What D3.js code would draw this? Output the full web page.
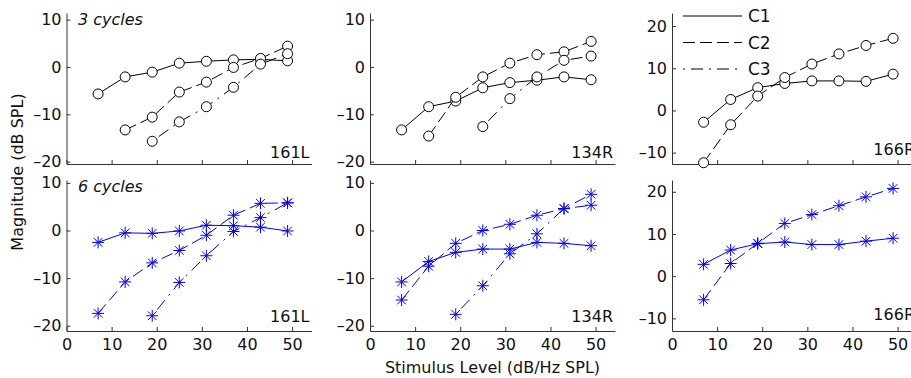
<!DOCTYPE html>
<html>
<head>
<meta charset="utf-8">
<script src="https://cdn.jsdelivr.net/npm/d3@7"></script>
<style>
  body { margin: 0; background: #fff; }
  svg { font-family: "DejaVu Sans", sans-serif; }
</style>
</head>
<body>
<svg width="911" height="378"></svg>
<script>
const levels = [7, 13, 19, 25, 31, 37, 43, 49];
const xTicks = [0, 10, 20, 30, 40, 50];
const yTicksLow = [-20, -10, 0, 10];
const yTicksHigh = [-10, 0, 10, 20];
const ears = ["161L", "134R", "166R"];
const conditions = ["C1", "C2", "C3"];
const cycleLabels = ["3 cycles", "6 cycles"];

// 3 cycles
const c3_161L_C1 = [-5.7, -2.1, -1.1, 0.8, 1.2, 1.5, 1.6, 1.3];
const c3_161L_C2 = [null, -13.3, -10.6, -5.3, -3.2, -0.1, 1.8, 4.4];
const c3_161L_C3 = [null, null, -15.7, -11.6, -8.4, -4.3, 0.6, 2.8];
const c3_134R_C1 = [-13.3, -8.4, -7.2, -4.4, -3.3, -2.8, -2.1, -2.7];
const c3_134R_C2 = [null, -14.6, -6.4, -2.1, 0.8, 2.6, 3.2, 5.4];
const c3_134R_C3 = [null, null, null, -12.6, -6.7, -2.1, 1.4, 2.3];
const c3_166R_C1 = [-2.8, 2.6, 5.4, 6.4, 7.0, 7.0, 6.9, 8.6];
const c3_166R_C2 = [-12.4, -3.4, 3.4, 7.8, 11.0, 13.4, 15.4, 17.1];

// 6 cycles
const c6_161L_C1 = [-2.5, -0.5, -0.6, -0.1, 1.1, 1.0, 0.7, -0.1];
const c6_161L_C2 = [-17.4, -10.8, -6.8, -4.2, -1.0, 3.2, 5.7, 5.8];
const c6_161L_C3 = [null, null, -17.9, -10.9, -5.3, -0.2, 2.7, 5.8];
const c6_134R_C1 = [-10.8, -6.5, -4.6, -3.9, -3.9, -2.5, -2.7, -3.2];
const c6_134R_C2 = [-14.6, -7.5, -2.7, 0.0, 1.3, 3.2, 4.6, 5.3];
const c6_134R_C3 = [null, null, -17.6, -11.6, -4.9, -0.7, 4.6, 7.6];
const c6_166R_C1 = [2.8, 6.2, 7.7, 8.1, 7.5, 7.5, 8.3, 9.0];
const c6_166R_C2 = [-5.6, 3.0, 7.8, 12.5, 14.6, 16.7, 18.8, 20.8];

const panels = [
  { row: 0, col: 0, series: [c3_161L_C1, c3_161L_C2, c3_161L_C3], yDomain: [-20.5, 11.4], label: -19.3 },
  { row: 0, col: 1, series: [c3_134R_C1, c3_134R_C2, c3_134R_C3], yDomain: [-20.5, 11.4], label: -19.3 },
  { row: 0, col: 2, series: [c3_166R_C1, c3_166R_C2], yDomain: [-12.7, 23.1], label: -10.5 },
  { row: 1, col: 0, series: [c6_161L_C1, c6_161L_C2, c6_161L_C3], yDomain: [-21.1, 10.6], label: -19.3 },
  { row: 1, col: 1, series: [c6_134R_C1, c6_134R_C2, c6_134R_C3], yDomain: [-21.1, 10.6], label: -19.3 },
  { row: 1, col: 2, series: [c6_166R_C1, c6_166R_C2], yDomain: [-13.0, 22.8], label: -10.3 }
];

const colX = [66.5, 370, 672];
const rowY = [13, 180];
const pw = 245, ph = 151;
const dashes = [null, "12,5", "2,6,12,6"];
const axisColor = "#333";
const fs = 16;

const svg = d3.select("svg");

const fmt = d => d < 0 ? "\u2013" + Math.abs(d) : d;

panels.forEach(p => {
  const g = svg.append("g").attr("transform", `translate(${colX[p.col]},${rowY[p.row]})`);
  const x = d3.scaleLinear().domain([0, 54.3]).range([0, pw]);
  const y = d3.scaleLinear().domain(p.yDomain).range([ph, 0]);
  const color = p.row === 0 ? "#000" : "#0000ff";

  const yAxis = g.append("g")
    .call(d3.axisLeft(y)
      .tickValues(p.col === 2 ? yTicksHigh : yTicksLow)
      .tickSizeInner(-4).tickSizeOuter(0).tickPadding(5)
      .tickFormat(fmt));
  const xAxis = g.append("g")
    .attr("transform", `translate(0,${ph})`)
    .call(d3.axisBottom(x)
      .tickValues(xTicks)
      .tickSizeInner(-4).tickSizeOuter(0).tickPadding(8)
      .tickFormat(p.row === 0 ? "" : d => d));
  [yAxis, xAxis].forEach(a => {
    a.attr("color", axisColor)
      .attr("font-size", fs)
      .attr("font-family", "DejaVu Sans, sans-serif");
    a.selectAll("text").attr("fill", "#111");
  });

  const line = d3.line()
    .defined(d => d[1] != null)
    .x(d => x(d[0]))
    .y(d => y(d[1]));

  p.series.forEach((vals, i) => {
    const pts = levels.map((l, j) => [l, vals[j]]);
    g.append("path")
      .datum(pts)
      .attr("fill", "none")
      .attr("stroke", color)
      .attr("stroke-width", 1)
      .attr("stroke-dasharray", dashes[i])
      .attr("d", line);

    const marks = g.append("g").selectAll("g")
      .data(pts.filter(d => d[1] != null))
      .enter().append("g")
      .attr("transform", d => `translate(${x(d[0])},${y(d[1])})`);

    if (p.row === 0) {
      marks.append("circle")
        .attr("r", 5)
        .attr("fill", "#fff")
        .attr("stroke", "#000")
        .attr("stroke-width", 1);
    } else {
      const r = 6, q = 4.3;
      marks.append("path")
        .attr("d", `M0,${-r}V${r}M${-r},0H${r}M${-q},${-q}L${q},${q}M${-q},${q}L${q},${-q}`)
        .attr("stroke", color)
        .attr("stroke-width", 1)
        .attr("fill", "none");
    }
  });

  g.append("text")
    .attr("x", pw - 2)
    .attr("y", y(p.label))
    .attr("text-anchor", "end")
    .attr("font-size", fs)
    .attr("fill", "#111")
    .text(ears[p.col]);

  if (p.col === 0) {
    g.append("text")
      .attr("x", 11.5)
      .attr("y", 12)
      .attr("font-size", fs)
      .attr("font-style", "italic")
      .attr("fill", "#111")
      .text(cycleLabels[p.row]);
  }

  if (p.row === 0 && p.col === 2) {
    const legend = g.append("g").attr("transform", "translate(11,3)");
    conditions.forEach((c, i) => {
      legend.append("line")
        .attr("x1", 0).attr("x2", 59)
        .attr("y1", i * 26.5).attr("y2", i * 26.5)
        .attr("stroke", "#000")
        .attr("stroke-dasharray", dashes[i]);
      legend.append("text")
        .attr("x", 65)
        .attr("y", i * 26.5)
        .attr("dy", "0.36em")
        .attr("font-size", fs + 1)
        .attr("fill", "#111")
        .text(c);
    });
  }
});

svg.append("text")
  .attr("x", colX[1] + pw / 2)
  .attr("y", 373)
  .attr("text-anchor", "middle")
  .attr("font-size", fs)
  .attr("fill", "#111")
  .text("Stimulus Level (dB/Hz SPL)");

svg.append("text")
  .attr("transform", `translate(23,${(rowY[0] + rowY[1] + ph) / 2}) rotate(-90)`)
  .attr("text-anchor", "middle")
  .attr("font-size", fs)
  .attr("fill", "#111")
  .text("Magnitude (dB SPL)");
</script>
</body>
</html>
